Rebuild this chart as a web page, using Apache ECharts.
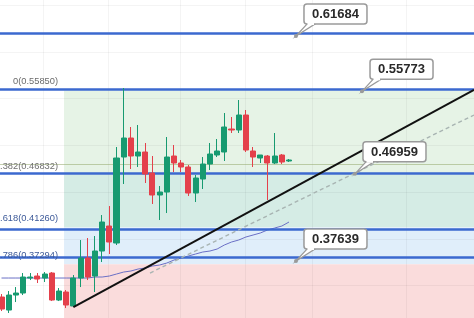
<!DOCTYPE html>
<html><head><meta charset="utf-8">
<script src="https://cdn.jsdelivr.net/npm/echarts@6/dist/echarts.min.js"></script>
<style>html,body{margin:0;padding:0;background:#fff}#c{width:474px;height:318px}</style>
</head><body><div id="c"></div>
<script>
// ---- data ----
const candleIndex = [0,1,2,3,4,5,6,7,8,9,10,11,12,13,14,15,16,17,18,19,20,21,22,23,24,25,26,27,28,29,30,31,32,33,34,35,36,37,38,39,40];
const opens  = [0.33791,0.32401,0.34004,0.34218,0.35821,0.36035,0.35821,0.36356,0.33470,0.34325,0.32829,0.35821,0.37959,0.36035,0.38707,0.41378,0.39562,0.48752,0.50783,0.48859,0.49287,0.47042,0.44691,0.45012,0.48859,0.48111,0.47684,0.44905,0.46401,0.48004,0.48966,0.49287,0.51745,0.51638,0.53241,0.49394,0.48646,0.48859,0.48111,0.48966,0.48325];
const closes = [0.32508,0.34004,0.34218,0.35928,0.35928,0.35714,0.36249,0.33470,0.34432,0.32936,0.35821,0.37959,0.35928,0.38707,0.41806,0.39668,0.48646,0.50783,0.48859,0.49287,0.46936,0.44691,0.45012,0.48752,0.48111,0.47684,0.44905,0.46508,0.48004,0.49073,0.49394,0.51959,0.51638,0.53241,0.49500,0.48752,0.48966,0.48111,0.48859,0.48218,0.48432];
const lows   = [0.32294,0.32081,0.33256,0.34004,0.35607,0.35287,0.35394,0.33363,0.33363,0.32615,0.32722,0.34859,0.35607,0.34325,0.37531,0.38386,0.39348,0.45867,0.47470,0.47684,0.45974,0.43730,0.42020,0.42768,0.47149,0.47149,0.44584,0.43943,0.45333,0.47363,0.48752,0.48325,0.51317,0.51317,0.49287,0.47684,0.48111,0.44157,0.48004,0.48004,0.48218];
const highs  = [0.34111,0.34432,0.34859,0.36356,0.36356,0.36356,0.36462,0.36462,0.34752,0.34539,0.36142,0.39882,0.40096,0.40310,0.42554,0.43516,0.49821,0.56126,0.51959,0.52172,0.50249,0.48859,0.45653,0.50890,0.50035,0.48432,0.47897,0.46829,0.48752,0.50249,0.50676,0.53455,0.53027,0.54844,0.53775,0.49821,0.48966,0.48966,0.51317,0.49073,0.48539];
const maValues = [0.35821,0.35821,0.35821,0.35821,0.35821,0.35821,0.35821,0.35821,0.35821,0.35821,0.35821,0.35821,0.35821,0.35928,0.35928,0.36035,0.36249,0.36462,0.36569,0.36783,0.36890,0.37104,0.37210,0.37424,0.37745,0.37959,0.38172,0.38386,0.38600,0.38707,0.38920,0.39348,0.39668,0.39882,0.40203,0.40417,0.40630,0.40951,0.41165,0.41378,0.41806];

const levelLines = [0.61684, 0.55773, 0.46959, 0.41485, 0.37639];
const calloutLabels = ['0.61684','0.55773','0.46959','0.37639'];
const calloutValues = [0.61684, 0.55773, 0.46959, 0.37639];
const calloutX = [40.97, 50.16, 49.18, 40.97];

const fibRatios = ['0','0.382','0.618','0.786'];
const fibPrices = [0.55850, 0.46832, 0.41260, 0.37294];
const fibColors = ['#e6f3e6','#d5ece5','#e0eefa','#fadcdc'];
const fibLabelColors = ['#6b6b6b','#707070','#3d5a99','#3d5a99'];
const fibStartX = 8.7;
const fibLabelX = 7.86;

const trendBlack = [[10, 0.32722], [65.74, 0.5593]];
const trendDashed = [[20.66, 0.36356], [65.74, 0.53241]];

const gridXValues = [5.8, 14.8, 24.8, 33.9, 43.2, 56.3];
const gridYValues = [0.35, 0.40, 0.45, 0.50, 0.55, 0.60, 0.65];

const xMin = -0.209, xMax = 65.739, yMin = 0.3155, yMax = 0.6553;
const lastPrice = closes[closes.length - 1];

// ---- build ----
const candleData = candleIndex.map((x, i) => [x, opens[i], closes[i], lows[i], highs[i]]);
const maData = candleIndex.map((x, i) => [x, maValues[i]]);
const bandData = fibPrices.map((p, i) => [
  { coord: [fibStartX, p], itemStyle: { color: fibColors[i] } },
  { coord: [xMax, i + 1 < fibPrices.length ? fibPrices[i + 1] : yMin] }
]);

const chart = echarts.init(document.getElementById('c'), null, { renderer: 'canvas' });
chart.setOption({
  animation: false,
  backgroundColor: '#ffffff',
  grid: { left: 0, right: 0, top: 0, bottom: 0 },
  xAxis: { type: 'value', min: xMin, max: xMax, show: false, splitLine: { show: false } },
  yAxis: { type: 'value', min: yMin, max: yMax, show: false, splitLine: { show: false }, scale: true },
  series: [
    { // fib bands
      type: 'line', data: [], z: 1, silent: true,
      markArea: { silent: true, data: bandData, label: { show: false } }
    },
    { // grid lines
      type: 'line', data: [], z: 2, silent: true,
      markLine: {
        silent: true, symbol: ['none', 'none'], label: { show: false },
        lineStyle: { color: 'rgba(0,0,0,0.045)', width: 1, type: 'solid' },
        data: gridXValues.map(v => ({ xAxis: v })).concat(gridYValues.map(v => ({ yAxis: v })))
      }
    },
    { // last price line
      type: 'line', data: [], z: 3, silent: true,
      markLine: {
        silent: true, symbol: ['none', 'none'], label: { show: false },
        lineStyle: { color: 'rgba(150,170,110,0.55)', width: 1, type: 'solid' },
        data: [{ yAxis: lastPrice }]
      }
    },
    { // moving average
      type: 'line', data: maData, z: 4, symbol: 'none', silent: true,
      lineStyle: { color: '#6b70c6', width: 1 }
    },
    {
      type: 'candlestick', data: candleData, z: 5,
      encode: { x: 0, y: [1, 2, 3, 4] },
      barWidth: 5.6,
      itemStyle: { color: '#179a70', color0: '#e4404b', borderColor: '#179a70', borderColor0: '#e4404b', borderWidth: 1 }
    },
    { // horizontal levels
      type: 'line', data: [], z: 6, silent: true,
      markLine: {
        silent: true, symbol: ['none', 'none'], label: { show: false },
        lineStyle: { color: '#3b69cf', width: 2.6, type: 'solid' },
        data: levelLines.map(v => ({ yAxis: v }))
      }
    },
    { // dashed trend
      type: 'line', data: trendDashed, z: 7, symbol: 'none', silent: true,
      lineStyle: { color: '#a8b4b2', width: 1.4, type: [4, 3] }
    },
    { // black trend
      type: 'line', data: trendBlack, z: 8, symbol: 'none', silent: true,
      lineStyle: { color: '#111111', width: 2 }
    },
    { // fib labels
      type: 'custom', z: 9, silent: true, clip: false,
      data: fibPrices.map((p, i) => [fibLabelX, p, i]),
      renderItem: function (params, api) {
        const p = api.coord([api.value(0), api.value(1)]);
        const i = params.dataIndex;
        return {
          type: 'text',
          style: {
            x: p[0], y: p[1] - 9,
            text: fibRatios[i] + '(' + fibPrices[i].toFixed(5) + ')',
            align: 'right', verticalAlign: 'middle',
            font: '9.3px "Liberation Sans", Arial, sans-serif',
            fill: fibLabelColors[i]
          }
        };
      }
    },
    { // callouts
      type: 'custom', z: 10, silent: true, clip: false,
      data: calloutValues.map((v, i) => [calloutX[i], v]),
      renderItem: function (params, api) {
        const p = api.coord([api.value(0), api.value(1)]);
        const txt = calloutLabels[params.dataIndex];
        const bx = p[0] + 8, by = p[1] - 32, bw = 63, bh = 20;
        return {
          type: 'group', children: [
            { type: 'polygon', shape: { points: [[p[0], p[1]], [bx + 3, by + bh], [bx + 11, by + bh]] },
              style: { fill: '#ffffff', stroke: '#9a9a9a', lineWidth: 1.2 } },
            { type: 'rect', shape: { x: bx, y: by, width: bw, height: bh, r: 3 },
              style: { fill: '#ffffff', stroke: '#9a9a9a', lineWidth: 1.5 } },
            { type: 'rect', shape: { x: bx + 3.5, y: by + bh - 1.5, width: 6.5, height: 2.5 },
              style: { fill: '#ffffff' } },
            { type: 'circle', shape: { cx: p[0], cy: p[1], r: 2 }, style: { fill: '#9a9a9a' } },
            { type: 'text', style: { x: bx + bw / 2, y: by + bh / 2 + 0.5, text: txt, align: 'center', verticalAlign: 'middle',
              font: 'bold 13px "Liberation Sans", Arial, sans-serif', fill: '#2a2a2a' } }
          ]
        };
      }
    }
  ]
});
</script>
</body></html>
